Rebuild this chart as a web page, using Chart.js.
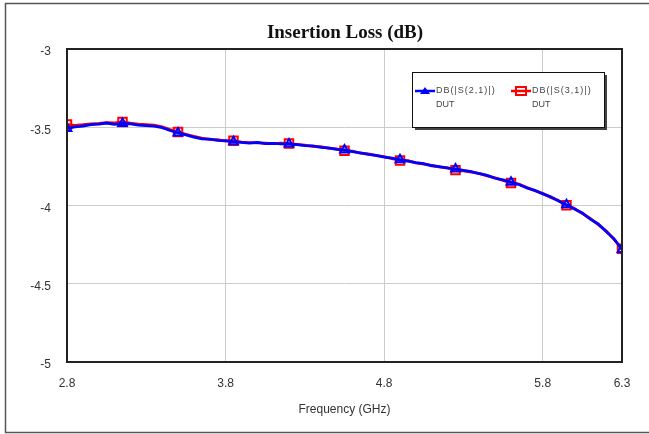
<!DOCTYPE html>
<html><head><meta charset="utf-8">
<script src="https://cdn.jsdelivr.net/npm/chart.js@4"></script>
<style>html,body{margin:0;padding:0;background:#fff;overflow:hidden}#wrap{position:relative;width:649px;height:434px}</style>
</head><body><div id="wrap"><canvas id="c" width="649" height="434"></canvas></div>
<script>
const freq = [2.80,2.85,2.90,2.95,3.00,3.05,3.10,3.15,3.20,3.25,3.30,3.35,3.40,3.45,3.50,3.55,3.60,3.65,3.70,3.75,3.80,3.85,3.90,3.95,4.00,4.05,4.10,4.15,4.20,4.25,4.30,4.35,4.40,4.45,4.50,4.55,4.60,4.65,4.70,4.75,4.80,4.85,4.90,4.95,5.00,5.05,5.10,5.15,5.20,5.25,5.30,5.35,5.40,5.45,5.50,5.55,5.60,5.65,5.70,5.75,5.80,5.85,5.90,5.95,6.00,6.05,6.10,6.15,6.20,6.25,6.30];
const s21 = [-3.508,-3.497,-3.492,-3.483,-3.480,-3.473,-3.482,-3.476,-3.479,-3.486,-3.489,-3.493,-3.503,-3.521,-3.536,-3.549,-3.563,-3.574,-3.576,-3.584,-3.586,-3.593,-3.596,-3.601,-3.597,-3.604,-3.603,-3.606,-3.607,-3.611,-3.617,-3.619,-3.628,-3.632,-3.641,-3.645,-3.656,-3.663,-3.673,-3.679,-3.691,-3.697,-3.707,-3.716,-3.726,-3.733,-3.746,-3.751,-3.761,-3.766,-3.776,-3.783,-3.797,-3.808,-3.826,-3.836,-3.851,-3.866,-3.887,-3.903,-3.926,-3.944,-3.971,-3.996,-4.022,-4.048,-4.087,-4.118,-4.166,-4.213,-4.281];
const s31 = [-3.482,-3.488,-3.484,-3.478,-3.476,-3.470,-3.472,-3.466,-3.474,-3.480,-3.484,-3.487,-3.498,-3.515,-3.530,-3.545,-3.558,-3.570,-3.578,-3.580,-3.588,-3.586,-3.595,-3.598,-3.600,-3.601,-3.605,-3.602,-3.604,-3.609,-3.614,-3.622,-3.624,-3.635,-3.638,-3.650,-3.652,-3.666,-3.670,-3.682,-3.688,-3.700,-3.712,-3.714,-3.728,-3.736,-3.743,-3.755,-3.758,-3.774,-3.778,-3.786,-3.795,-3.811,-3.823,-3.840,-3.856,-3.864,-3.885,-3.906,-3.922,-3.948,-3.968,-3.999,-4.019,-4.052,-4.083,-4.122,-4.162,-4.217,-4.277];
const seriesNames = ["DB(|S(2,1)|)", "DB(|S(3,1)|)"];
const seriesSub = ["DUT", "DUT"];
const xTicks = [2.8, 3.8, 4.8, 5.8, 6.3];
const yTicks = [-5, -4.5, -4, -3.5, -3];
const titleText = "Insertion Loss (dB)";
const xTitle = "Frequency (GHz)";

const markerEvery = 7;
const mk = (r) => (ctx) => (ctx.dataIndex % markerEvery === 0 ? r : 0);

const framePlugin = {
  id: 'frame',
  beforeDraw(chart) {
    const c = chart.ctx;
    c.save();
    c.fillStyle = '#fff';
    c.fillRect(0, 0, chart.width, chart.height);
    c.strokeStyle = '#555';
    c.lineWidth = 1.5;
    c.strokeRect(5.5, 3.5, 720, 429);
    c.fillStyle = '#111';
    c.font = 'bold 19px "Liberation Serif", "Times New Roman", serif';
    c.textAlign = 'center'; c.textBaseline = 'middle';
    c.fillText(titleText, 345, 33);
    c.restore();
  },
  afterDatasetsDraw(chart) {
    const c = chart.ctx, a = chart.chartArea;
    c.save();
    c.strokeStyle = '#222';
    c.lineWidth = 2;
    c.strokeRect(a.left, a.top, a.right - a.left, a.bottom - a.top);
    const bx = 412, by = 72, bw = 192, bh = 55;
    c.fillStyle = '#444';
    c.fillRect(bx + 3, by + 3, bw, bh);
    c.fillStyle = '#fff';
    c.fillRect(bx, by, bw, bh);
    c.strokeStyle = '#111';
    c.lineWidth = 1;
    c.strokeRect(bx + 0.5, by + 0.5, bw, bh);
    const cols = [415, 511];
    chart.data.datasets.forEach((ds, i) => {
      const x0 = cols[i], y0 = 91;
      c.strokeStyle = ds.borderColor; c.lineWidth = 2.5;
      c.beginPath(); c.moveTo(x0, y0); c.lineTo(x0 + 20, y0); c.stroke();
      c.lineWidth = 2;
      if (i === 0) {
        c.fillStyle = ds.borderColor;
        c.beginPath(); c.moveTo(x0 + 10, y0 - 4); c.lineTo(x0 + 15, y0 + 3); c.lineTo(x0 + 5, y0 + 3); c.closePath(); c.fill();
      } else {
        c.strokeRect(x0 + 5, y0 - 4, 10, 8);
      }
      c.fillStyle = '#444';
      c.font = '9px "Liberation Sans", Arial, sans-serif';
      c.textBaseline = 'middle'; c.textAlign = 'left';
      c.letterSpacing = '1px';
      c.fillText(seriesNames[i], x0 + 21, y0);
      c.letterSpacing = '0px';
      c.fillText(seriesSub[i], x0 + 21, y0 + 14);
    });
    c.restore();
  }
};

new Chart(document.getElementById('c'), {
  type: 'line',
  data: {
    labels: freq,
    datasets: [
      { label: seriesNames[0], data: freq.map((f, i) => ({x: f, y: s21[i]})), borderColor: '#0000ff', backgroundColor: 'rgba(255,255,255,0)', borderWidth: 2.8, pointStyle: 'triangle', pointRadius: mk(5), pointBorderWidth: 2, pointBorderColor: '#0000ff', pointBackgroundColor: 'rgba(255,255,255,0)', tension: 0 },
      { label: seriesNames[1], data: freq.map((f, i) => ({x: f, y: s31[i]})), borderColor: '#ff0000', backgroundColor: 'rgba(255,255,255,0)', borderWidth: 2.8, pointStyle: 'rect', pointRadius: mk(6), pointBorderWidth: 2, pointBorderColor: '#ff0000', pointBackgroundColor: 'rgba(255,255,255,0)', tension: 0 }
    ]
  },
  options: {
    responsive: false, animation: false, devicePixelRatio: 1,
    layout: { padding: { left: 0, right: 27, top: 49, bottom: 0 } },
    plugins: { legend: { display: false }, tooltip: { enabled: false }, title: { display: false } },
    scales: {
      x: {
        type: 'linear', min: 2.8, max: 6.3,
        afterBuildTicks: (s) => { s.ticks = xTicks.map(v => ({ value: v })); },
        afterFit: (s) => { s.height = 72; },
        grid: { color: '#cccccc', lineWidth: 1, drawTicks: false },
        border: { display: false },
        ticks: { padding: 14, color: '#333', font: { family: '"Liberation Sans", Arial, sans-serif', size: 12 }, callback: (v) => v.toFixed(1), maxRotation: 0 },
        title: { display: true, text: xTitle, color: '#333', font: { family: '"Liberation Sans", Arial, sans-serif', size: 12 }, padding: { top: 4, bottom: 17 } }
      },
      y: {
        min: -5, max: -3,
        afterBuildTicks: (s) => { s.ticks = yTicks.map(v => ({ value: v })); },
        afterFit: (s) => { s.width = 67; },
        grid: { color: '#cccccc', lineWidth: 1, drawTicks: false },
        border: { display: false },
        ticks: { padding: 16, labelOffset: 3, color: '#333', font: { family: '"Liberation Sans", Arial, sans-serif', size: 12 }, callback: (v) => String(v) }
      }
    }
  },
  plugins: [framePlugin]
});
</script></body></html>
